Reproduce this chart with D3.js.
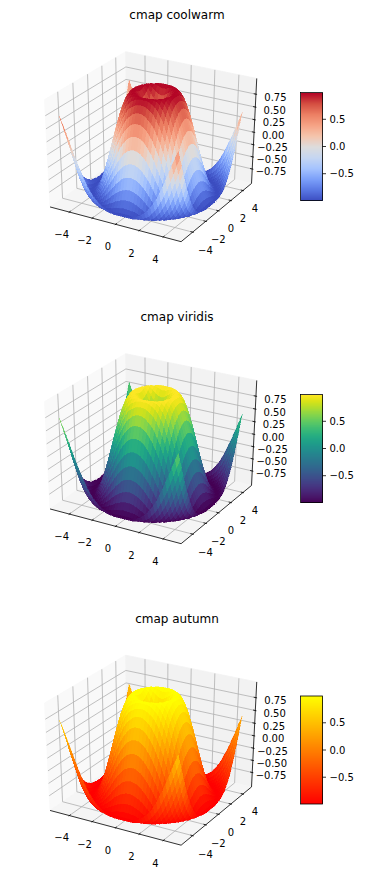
<!DOCTYPE html>
<html><head><meta charset="utf-8">
<script src="https://cdnjs.cloudflare.com/ajax/libs/d3/7.8.5/d3.min.js"></script>
<style>html,body{margin:0;padding:0;background:#fff}svg{display:block}text{font-family:"DejaVu Sans",sans-serif;fill:#000}</style>
</head><body><div id="chart"></div>
<script>
const panelTitles = ["cmap coolwarm", "cmap viridis", "cmap autumn"];
const xyGrid = [-5,-4.75,-4.5,-4.25,-4,-3.75,-3.5,-3.25,-3,-2.75,-2.5,-2.25,-2,-1.75,-1.5,-1.25,-1,-0.75,-0.5,-0.25,0,0.25,0.5,0.75,1,1.25,1.5,1.75,2,2.25,2.5,2.75,3,3.25,3.5,3.75,4,4.25,4.5,4.75];
const xTicks = [-4,-2,0,2,4];
const yTicks = [-4,-2,0,2,4];
const zTicks = [-0.75,-0.5,-0.25,0,0.25,0.5,0.75];
const cbarTicks = [-0.5,0,0.5];
const coolwarmStops = ["#3b4cc0","#5977e3","#7b9ff9","#a5c3fe","#c5d6f2","#dddcdc","#f5c4ac","#f6a385","#ec7f63","#d44e41","#b40426"];
// Height of the surface, read in quarter-unit steps outward from the centre (upper triangle: row |x|, column |y|-|x|)
const zRows = [
[0,.25,.48,.68,.84,.95,1,.98,.91,.78,.6,.38,.14,-.11,-.35,-.57,-.76,-.9,-.98,-1,-.96],
[.35,.53,.71,.86,.96,1,.98,.9,.77,.59,.37,.13,-.12,-.36,-.58,-.76,-.9,-.98,-1,-.96],
[.65,.78,.9,.98,1,.97,.88,.74,.56,.34,.1,-.15,-.38,-.6,-.78,-.91,-.98,-1,-.95],
[.87,.95,.99,.99,.94,.84,.69,.51,.29,.05,-.19,-.42,-.63,-.8,-.92,-.99,-1,-.94],
[.99,1,.97,.9,.79,.63,.43,.21,-.02,-.26,-.48,-.67,-.83,-.94,-.99,-.99,-.93],
[.98,.93,.84,.71,.54,.34,.12,-.11,-.33,-.54,-.72,-.87,-.96,-1,-.98,-.9],
[.85,.74,.6,.42,.22,.01,-.21,-.42,-.62,-.78,-.9,-.98,-1,-.96,-.87],
[.62,.46,.29,.09,-.12,-.33,-.52,-.7,-.84,-.94,-.99,-.99,-.94,-.83],
[.31,.13,-.06,-.26,-.45,-.62,-.78,-.89,-.97,-1,-.98,-.9,-.78],
[-.04,-.22,-.4,-.57,-.72,-.85,-.94,-.99,-1,-.95,-.86,-.72],
[-.38,-.54,-.69,-.82,-.92,-.98,-1,-.98,-.91,-.79,-.64],
[-.68,-.8,-.9,-.97,-1,-.99,-.94,-.85,-.71,-.55],
[-.89,-.96,-.99,-1,-.96,-.88,-.77,-.62,-.44],
[-.99,-1,-.97,-.9,-.8,-.67,-.5,-.31],
[-.97,-.91,-.82,-.7,-.55,-.37,-.18],
[-.83,-.72,-.58,-.41,-.23,-.03],
[-.59,-.43,-.26,-.07,.12],
[-.27,-.09,.09,.28],
[.08,.26,.43],
[.42,.58],
[.71]
];

const width = 389, height = 881;
const panelTop = [0, 302, 603.5];
const quarter = d3.scaleLinear().domain([0, 5]).range([0, 20]);
const zAt = (x, y) => {
  const a = Math.round(quarter(Math.abs(x))), b = Math.round(quarter(Math.abs(y)));
  return zRows[Math.min(a, b)][Math.abs(a - b)];
};

// Data limits mapped on the unit cube, panes sit 1/48 outside it
const nx = d3.scaleLinear().domain([-5.4875, 5.2375]).range([0, 1]);
const ny = d3.scaleLinear().domain([-5.4875, 5.2375]).range([0, 1]);
const nz = d3.scaleLinear().domain([-1.01, 1.01]).range([0, 1]);
const LO = -1 / 48, HI = 1 + 1 / 48;

// elev 30, azim -60, dist 10
const el = 30 * Math.PI / 180, az = -60 * Math.PI / 180, dist = 10;
const W = [Math.cos(el) * Math.cos(az), Math.cos(el) * Math.sin(az), Math.sin(el)];
const Ulen = Math.hypot(W[0], W[1]);
const U = [-W[1] / Ulen, W[0] / Ulen, 0];
const V = [W[1] * U[2] - W[2] * U[1], W[2] * U[0] - W[0] * U[2], W[0] * U[1] - W[1] * U[0]];
const dot = (a, b) => a[0] * b[0] + a[1] * b[1] + a[2] * b[2];
const px = d3.scaleLinear().domain([-0.1, 0.1]).range([152.4 - 145.25, 152.4 + 145.25]);
const py = d3.scaleLinear().domain([-0.1, 0.1]).range([143.3 + 117.6, 143.3 - 117.6]);
function project(p) {
  const q = [p[0] - .5, p[1] - .5, p[2] - .5];
  const d = dist - dot(q, W);
  return { x: px(dot(q, U) / d), y: py(dot(q, V) / d), d };
}

const path = d3.line().x(d => d.x).y(d => d.y);
const closed = d3.line().x(d => d.x).y(d => d.y).curve(d3.curveLinearClosed);
const fmtAxis = d3.format("d"), fmtZ = d3.format(".2f"), fmtBar = d3.format(".1f");

const coolwarm = d3.scaleLinear().domain(coolwarmStops.map((_, i) => i / 10)).range(coolwarmStops).interpolate(d3.interpolateRgb);
const autumn = d3.interpolateRgb("#ff0000", "#ffff00");
const colormaps = [coolwarm, d3.interpolateViridis, autumn];

// One polygon per grid cell, coloured by the mean of its corners
const cells = [];
for (let i = 0; i < xyGrid.length - 1; i++) for (let j = 0; j < xyGrid.length - 1; j++) {
  const corners = [[i, j], [i + 1, j], [i + 1, j + 1], [i, j + 1]].map(([a, b]) => {
    const z = zAt(xyGrid[a], xyGrid[b]);
    return { z, s: project([nx(xyGrid[a]), ny(xyGrid[b]), nz(z)]) };
  });
  cells.push({ pts: corners.map(c => c.s), avg: d3.mean(corners, c => c.z), depth: d3.mean(corners, c => c.s.d) });
}
cells.sort((a, b) => d3.descending(a.depth, b.depth));
const [vmin, vmax] = d3.extent(cells, c => c.avg);
const norm = d3.scaleLinear().domain([vmin, vmax]).range([0, 1]).clamp(true);

const svg = d3.select("#chart").append("svg").attr("width", width).attr("height", height).attr("viewBox", `0 0 ${width} ${height}`);

panelTitles.forEach((title, k) => {
  const g = svg.append("g").attr("transform", `translate(0,${panelTop[k]})`);
  const cmap = colormaps[k];
  g.append("text").attr("x", 177).attr("y", 19).attr("text-anchor", "middle").attr("font-size", 12).text(title);

  // panes
  const panes = [
    { c: [[LO, LO, LO], [LO, HI, LO], [LO, HI, HI], [LO, LO, HI]], f: "#f9f9f9" },
    { c: [[LO, HI, LO], [HI, HI, LO], [HI, HI, HI], [LO, HI, HI]], f: "#f2f2f2" },
    { c: [[LO, LO, LO], [HI, LO, LO], [HI, HI, LO], [LO, HI, LO]], f: "#f5f5f5" }
  ];
  g.selectAll(".pane").data(panes).join("path").attr("class", "pane")
    .attr("d", d => closed(d.c.map(project))).attr("fill", d => d.f).attr("stroke", d => d.f).attr("stroke-width", .8);

  // grid
  const grid = [
    ...xTicks.map(t => [[nx(t), LO, LO], [nx(t), HI, LO], [nx(t), HI, HI]]),
    ...yTicks.map(t => [[HI, ny(t), LO], [LO, ny(t), LO], [LO, ny(t), HI]]),
    ...zTicks.map(t => [[LO, LO, nz(t)], [LO, HI, nz(t)], [HI, HI, nz(t)]])
  ];
  g.selectAll(".grid").data(grid).join("path").attr("class", "grid")
    .attr("d", d => path(d.map(project))).attr("fill", "none").attr("stroke", "#b0b0b0").attr("stroke-width", .8);

  // axis lines and ticks
  const axisLines = [[[LO, LO, LO], [HI, LO, LO]], [[HI, LO, LO], [HI, HI, LO]], [[HI, HI, LO], [HI, HI, HI]]];
  const out = 0.1 / 12 * 1.0417, inw = 0.2 / 12 * 1.0417;
  const tickLines = [
    ...xTicks.map(t => [[nx(t), LO - out, LO], [nx(t), LO + inw, LO]]),
    ...yTicks.map(t => [[HI + out, ny(t), LO], [HI - inw, ny(t), LO]]),
    ...zTicks.map(t => [[HI + out, HI, nz(t)], [HI - inw, HI, nz(t)]])
  ];
  g.selectAll(".ax").data(axisLines.concat(tickLines)).join("path").attr("class", "ax")
    .attr("d", d => path(d.map(project))).attr("fill", "none").attr("stroke", "#000").attr("stroke-width", .8);

  // surface
  g.append("g").attr("shape-rendering", "crispEdges").selectAll("path").data(cells).join("path")
    .attr("d", d => closed(d.pts)).attr("fill", d => cmap(norm(d.avg))).attr("stroke", d => cmap(norm(d.avg))).attr("stroke-width", .3);

  // tick labels
  const padX = .13, padY = .115, padZ = .1;
  const label = (list, at, fmt, dx, dy) => g.append("g").attr("font-size", 10).attr("text-anchor", "middle")
    .selectAll("text").data(list).join("text")
    .attr("x", d => project(at(d)).x + dx).attr("y", d => project(at(d)).y + 3.6 + dy).text(fmt);
  label(xTicks, t => [nx(t), LO - padX, LO - padX], fmtAxis, 2, 2);
  label(yTicks, t => [HI + padY, ny(t), LO - padY], fmtAxis, -2, 3);
  label(zTicks, t => [HI + padZ, HI + padZ, nz(t)], fmtZ, 0, 5);

  // colour bar
  const barX = 300.5, barW = 22, barTop = 92.5, barBottom = 200.5;
  const barY = d3.scaleLinear().domain([vmin, vmax]).range([barBottom, barTop]);
  const bar = g.append("g");
  bar.append("g").attr("shape-rendering", "crispEdges").selectAll("rect").data(d3.range(barTop, barBottom))
    .join("rect").attr("x", barX).attr("width", barW).attr("y", d => d).attr("height", 1.2)
    .attr("fill", d => cmap(norm(barY.invert(d + .5))));
  bar.append("rect").attr("x", barX).attr("y", barTop).attr("width", barW).attr("height", barBottom - barTop)
    .attr("fill", "none").attr("stroke", "#000").attr("stroke-width", .8);
  const ct = bar.selectAll(".ct").data(cbarTicks).join("g").attr("class", "ct")
    .attr("transform", d => `translate(${barX + barW},${barY(d)})`);
  ct.append("line").attr("x2", 3.5).attr("stroke", "#000").attr("stroke-width", .8);
  ct.append("text").attr("x", 7).attr("y", 3.6).attr("font-size", 10).text(fmtBar);
});
</script></body></html>
